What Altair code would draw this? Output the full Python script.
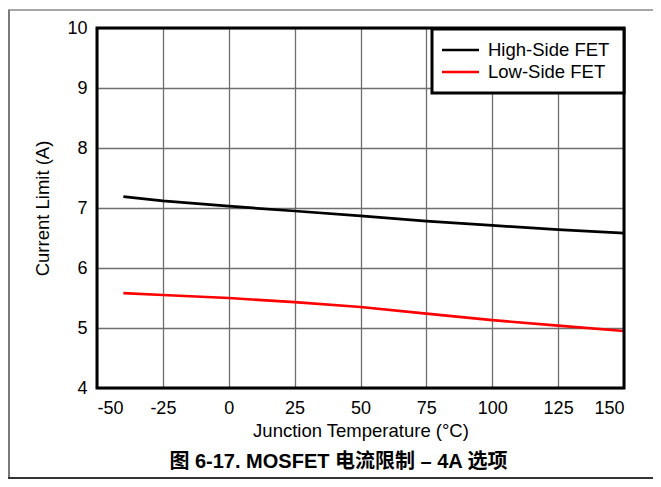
import altair as alt
import pandas as pd

temps = [-40, -25, 0, 25, 50, 75, 100, 125, 150]
high_side = [7.19, 7.12, 7.03, 6.95, 6.87, 6.78, 6.71, 6.64, 6.58]
low_side = [5.58, 5.55, 5.50, 5.43, 5.35, 5.24, 5.13, 5.04, 4.95]
series_names = ["High-Side FET", "Low-Side FET"]
series_colors = ["#000000", "#ff0000"]
x_ticks = [-50, -25, 0, 25, 50, 75, 100, 125, 150]
y_ticks = [4, 5, 6, 7, 8, 9, 10]
x_title = "Junction Temperature (°C)"
y_title = "Current Limit (A)"
caption = "图 6-17. MOSFET 电流限制 \u2013 4A 选项"

FONT = "Liberation Sans, Arial, Noto Sans CJK SC"
W, H = 527, 360

df = pd.DataFrame({
    "T": temps * 2,
    "I": high_side + low_side,
    "s": [series_names[0]] * len(temps) + [series_names[1]] * len(temps),
})

lines = alt.Chart(df).mark_line(strokeWidth=2.7).encode(
    x=alt.X("T:Q", scale=alt.Scale(domain=[-50, 150], nice=False, zero=False),
            axis=alt.Axis(values=x_ticks, title=x_title, grid=True, ticks=False, domain=False,
                          labelExpr="'' + datum.value",
                          labelFontSize=18, labelPadding=11, labelColor="#000", labelFont=FONT,
                          titleFontSize=18.5, titleFontWeight="normal", titleColor="#000",
                          titleFont=FONT, titlePadding=4.5,
                          gridColor="#6e6e6e", gridWidth=1.3, gridOpacity=1)),
    y=alt.Y("I:Q", scale=alt.Scale(domain=[4, 10], nice=False, zero=False),
            axis=alt.Axis(values=y_ticks, title=y_title, grid=True, ticks=False, domain=False,
                          labelExpr="'' + datum.value",
                          labelFontSize=18, labelPadding=10, labelColor="#000", labelFont=FONT,
                          titleFontSize=18.5, titleFontWeight="normal", titleColor="#000",
                          titleFont=FONT, titlePadding=14,
                          gridColor="#6e6e6e", gridWidth=1.3, gridOpacity=1)),
    color=alt.Color("s:N", scale=alt.Scale(domain=series_names, range=series_colors), legend=None),
)

one = pd.DataFrame({"a": [0]})

border = alt.Chart(one).mark_rect(fillOpacity=0, stroke="#000", strokeWidth=3).encode(
    x=alt.value(0), x2=alt.value(W), y=alt.value(0), y2=alt.value(H))

legend_box = alt.Chart(one).mark_rect(fill="#fff", stroke="#000", strokeWidth=3).encode(
    x=alt.value(335), x2=alt.value(W), y=alt.value(1), y2=alt.value(65))

legend_layers = []
for i, (name, col) in enumerate(zip(series_names, series_colors)):
    ly = 22 + 22 * i
    d = pd.DataFrame({"s": [name]})
    legend_layers.append(alt.Chart(d).mark_rule(color=col, strokeWidth=2.7).encode(
        x=alt.value(345), x2=alt.value(382), y=alt.value(ly)))
    legend_layers.append(alt.Chart(d).mark_text(align="left", baseline="middle", fontSize=18.5,
                                                font=FONT, color="#000").encode(
        x=alt.value(391), y=alt.value(ly), text="s:N"))

BOTTOM = 451
frame_top = alt.Chart(one).mark_rule(color="#8a8a8a", strokeWidth=1.5).encode(
    x=alt.value(-89), x2=alt.value(W + 29), y=alt.value(-18))
frame_left = alt.Chart(one).mark_rule(color="#7a7a7a", strokeWidth=2).encode(
    x=alt.value(-88), y=alt.value(-18), y2=alt.value(BOTTOM))
frame_bottom = alt.Chart(one).mark_rule(color="#333", strokeWidth=2).encode(
    x=alt.value(-89), x2=alt.value(W + 29), y=alt.value(BOTTOM - 1))

cap = alt.Chart(pd.DataFrame({"c": [caption]})).mark_text(
    align="center", baseline="middle", fontSize=20, fontWeight="bold", font=FONT, color="#000"
).encode(x=alt.value(241.5), y=alt.value(434), text="c:N")

chart = alt.layer(lines, border, legend_box, *legend_layers, frame_top, frame_left, frame_bottom, cap).properties(
    width=W, height=H,
    padding={"left": 89, "top": 20, "right": 29, "bottom": 91},
    autosize=alt.AutoSizeParams(type="none"),
    background="#ffffff",
).configure_view(stroke=None)

chart.save("out.html", embed_options={"renderer": "svg", "actions": False})
